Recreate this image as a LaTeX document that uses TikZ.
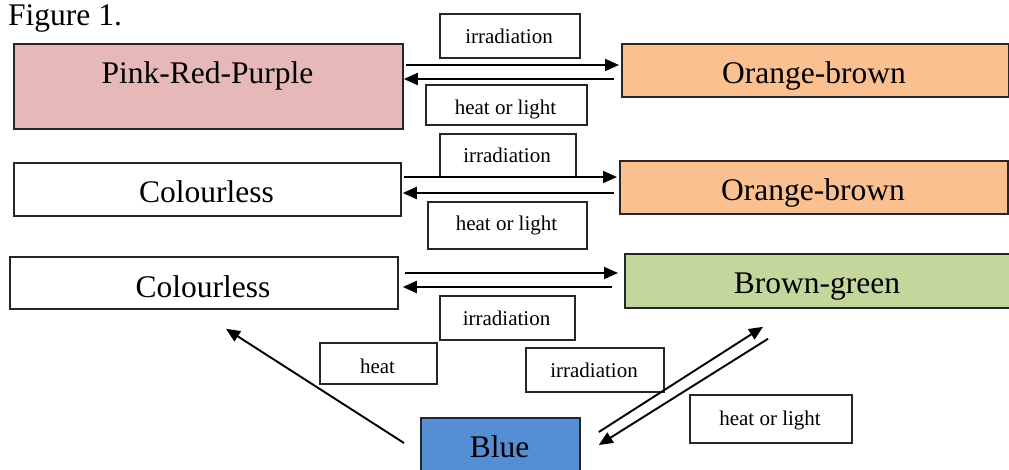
\documentclass[tikz,border=0pt]{standalone}
\usepackage{fontspec}
\setmainfont{Liberation Serif}
\usetikzlibrary{arrows.meta,calc}
\definecolor{pinkc}{HTML}{E6B9B8}
\definecolor{orangec}{HTML}{FAC090}
\definecolor{greenc}{HTML}{C3D69B}
\definecolor{bluec}{HTML}{558ED5}
\begin{document}
\begin{tikzpicture}[x=1pt,y=-1pt,
 box/.style={draw=black!85, line width=1.8pt, inner sep=0pt, anchor=north west},
 big/.style={font=\fontsize{31.5}{36}\selectfont, anchor=base, inner sep=0pt},
 lbl/.style={draw=black!85, line width=1.5pt, fill=white, inner sep=0pt, anchor=north west},
 small/.style={font=\fontsize{21}{25}\selectfont, anchor=base, inner sep=0pt},
 arr/.style={line width=1.9pt, -{Triangle[length=14pt,width=12pt]}}]
\useasboundingbox (0,0) rectangle (1009,469);

\node[font=\fontsize{31.5}{36}\selectfont, anchor=base west, inner sep=0pt] (fig) at (8,25) {Figure 1.};

% big boxes
\node[box, fill=pinkc, minimum width=389pt, minimum height=85pt] (pink) at (13,43) {};
\node[big] (pinkt) at (207.5,83) {Pink-Red-Purple};
\node[box, fill=orangec, minimum width=387pt, minimum height=53pt] (or1) at (621,43) {};
\node[big] (or1t) at (814,83) {Orange-brown};

\node[box, fill=white, minimum width=387pt, minimum height=53pt] (col1) at (13,162) {};
\node[big] (col1t) at (206.5,202) {Colourless};
\node[box, fill=orangec, minimum width=388pt, minimum height=53pt] (or2) at (619,160) {};
\node[big] (or2t) at (813,200) {Orange-brown};

\node[box, fill=white, minimum width=388pt, minimum height=52pt] (col2) at (9,256) {};
\node[big] (col2t) at (203,297) {Colourless};
\node[box, fill=greenc, minimum width=390pt, minimum height=54pt] (bg) at (624,253) {};
\node[big] (bgt) at (817,293) {Brown-green};

\node[box, fill=bluec, minimum width=159pt, minimum height=58pt] (blue) at (420,417) {};
\node[big] (bluet) at (499.5,457) {Blue};

% label boxes
\node[lbl, minimum width=140pt, minimum height=44pt] (l1) at (439,13) {};
\node[small] (l1t) at (509,43) {irradiation};
\node[lbl, minimum width=161pt, minimum height=40pt] (l2) at (425,84) {};
\node[small] (l2t) at (505.5,114) {heat or light};

\node[lbl, minimum width=136pt, minimum height=43pt] (l3) at (439,133) {};
\node[small] (l3t) at (507,162) {irradiation};
\node[lbl, minimum width=159pt, minimum height=47pt] (l4) at (427,201) {};
\node[small] (l4t) at (506.5,230) {heat or light};

\node[lbl, minimum width=135pt, minimum height=44pt] (l5) at (439,295) {};
\node[small] (l5t) at (506.5,325) {irradiation};

\node[lbl, minimum width=117pt, minimum height=41pt] (l6) at (319,342) {};
\node[small] (l6t) at (377.5,373) {heat};
\node[lbl, minimum width=138pt, minimum height=44pt] (l7) at (525,347) {};
\node[small] (l7t) at (594,377) {irradiation};
\node[lbl, minimum width=162pt, minimum height=48pt] (l8) at (689,394) {};
\node[small] (l8t) at (770,425) {heat or light};

% row 1 arrows
\draw[arr] ($(pink.north east)+(2,22)$) -- ($(or1.north west)+(-2,22)$);
\draw[arr] ($(or1.north west)+(-7,36)$) -- ($(pink.north east)+(0,36)$);
% row 2 arrows
\draw[arr] ($(col1.north east)+(2,15)$) -- ($(or2.north west)+(-2,17)$);
\draw[arr] ($(or2.north west)+(-5,33)$) -- ($(col1.north east)+(1,31)$);
% row 3 arrows
\draw[arr] ($(col2.north east)+(6,17)$) -- ($(bg.north west)+(-6,20)$);
\draw[arr] ($(bg.north west)+(-12,34)$) -- ($(col2.north east)+(4,31)$);
% heat arrow
\draw[arr] ($(blue.north west)+(-16,26)$) -- ($(col2.south west)+(217,19)$);
% diagonal pair
\draw[arr] ($(blue.north east)+(18,15)$) -- ($(bg.south west)+(139,18)$);
\draw[arr] ($(bg.south west)+(144,30)$) -- ($(blue.north east)+(18,28)$);
\end{tikzpicture}
\end{document}
